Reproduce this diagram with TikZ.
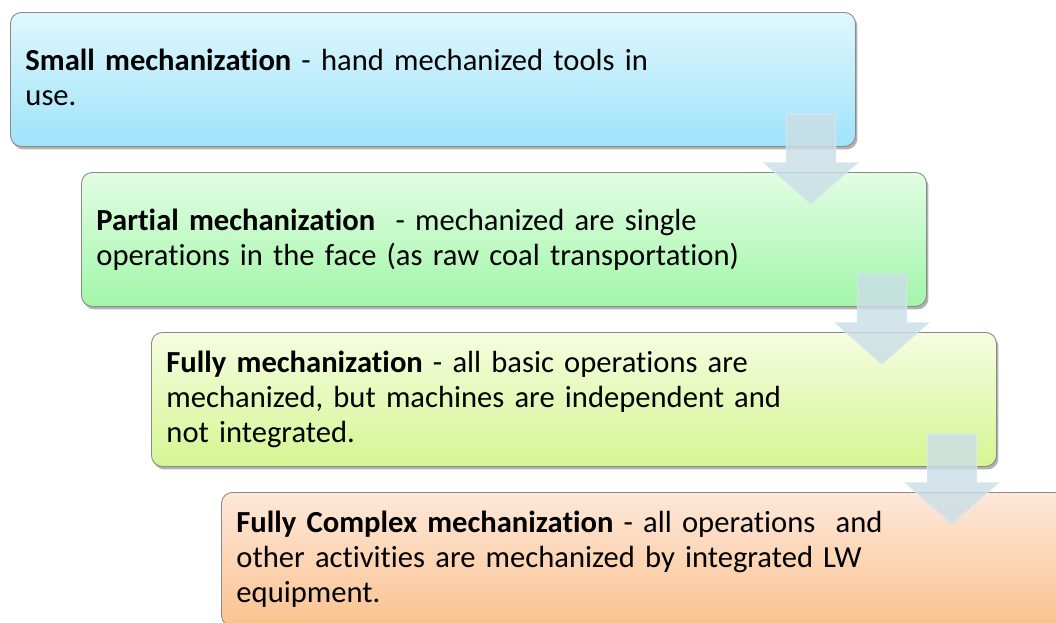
\documentclass[tikz,border=0pt]{standalone}
\usepackage{fontspec}
\setmainfont{Carlito}[Ligatures=CommonOff]
\usetikzlibrary{calc,shadows}
\definecolor{b1top}{HTML}{E0F7FD}\definecolor{b1bot}{HTML}{9FE3FA}
\definecolor{b2top}{HTML}{E2FDE3}\definecolor{b2bot}{HTML}{A2F6A9}
\definecolor{b3top}{HTML}{F5FDE0}\definecolor{b3bot}{HTML}{D5F592}
\definecolor{b4top}{HTML}{FDE8D9}\definecolor{b4bot}{HTML}{FBC290}
\definecolor{arrfill}{HTML}{CADEE6}\definecolor{arrline}{HTML}{D6E7EE}
\definecolor{boxline}{HTML}{8A8A8A}
\tikzset{
  stagebox/.style={draw=boxline, line width=0.9pt, rounded corners=11pt,
    anchor=north west, minimum width=845pt, minimum height=134pt,
    text width=815pt, inner xsep=15pt, align=left,
    font=\fontsize{30.6}{35}\selectfont,
    drop shadow={shadow xshift=2pt, shadow yshift=-3pt, opacity=0.3, fill=black}},
  flowarrow/.style={fill=arrfill, fill opacity=0.82, draw=arrline, line width=1.2pt, draw opacity=0.9}
}
\newcommand\stagearrow[3]{%
  \coordinate (#3t) at ($(#1.south east)+(-45pt,33pt)$);
  \coordinate (#3y) at ($(#2.north)+(0,-32pt)$);
  \coordinate (#3p) at (#3t |- #3y);
  \filldraw[flowarrow] ($(#3t)+(-24.5pt,0)$) -- ($(#3t)+(24.5pt,0)$) -- ($(#3t)+(24.5pt,-49pt)$)
    -- ($(#3t)+(46.5pt,-49pt)$) -- (#3p) -- ($(#3t)+(-46.5pt,-49pt)$)
    -- ($(#3t)+(-24.5pt,-49pt)$) -- cycle;}
\begin{document}
\begin{tikzpicture}
\useasboundingbox (0,0) rectangle (1056pt,-622pt);
\clip (0,0) rectangle (1056pt,-622pt);
\node[stagebox, top color=b1top, bottom color=b1bot] (b1) at (10pt,-12pt)
  {\textbf{Small mechanization} - hand mechanized tools in\\use.\vphantom{y}};
\node[stagebox, top color=b2top, bottom color=b2bot] (b2) at (81pt,-172pt)
  {\textbf{Partial mechanization}\ \ - mechanized are single\\operations in the face (as raw coal transportation)};
\node[stagebox, top color=b3top, bottom color=b3bot] (b3) at (151pt,-332pt)
  {\textbf{Fully mechanization} - all basic operations are\\mechanized, but machines are independent and\\not integrated.};
\node[stagebox, top color=b4top, bottom color=b4bot] (b4) at (221pt,-492pt)
  {\textbf{Fully Complex mechanization} - all operations\ \ and\\other activities are mechanized by integrated LW\\equipment.};
\stagearrow{b1}{b2}{a1}
\stagearrow{b2}{b3}{a2}
\stagearrow{b3}{b4}{a3}
\end{tikzpicture}
\end{document}
